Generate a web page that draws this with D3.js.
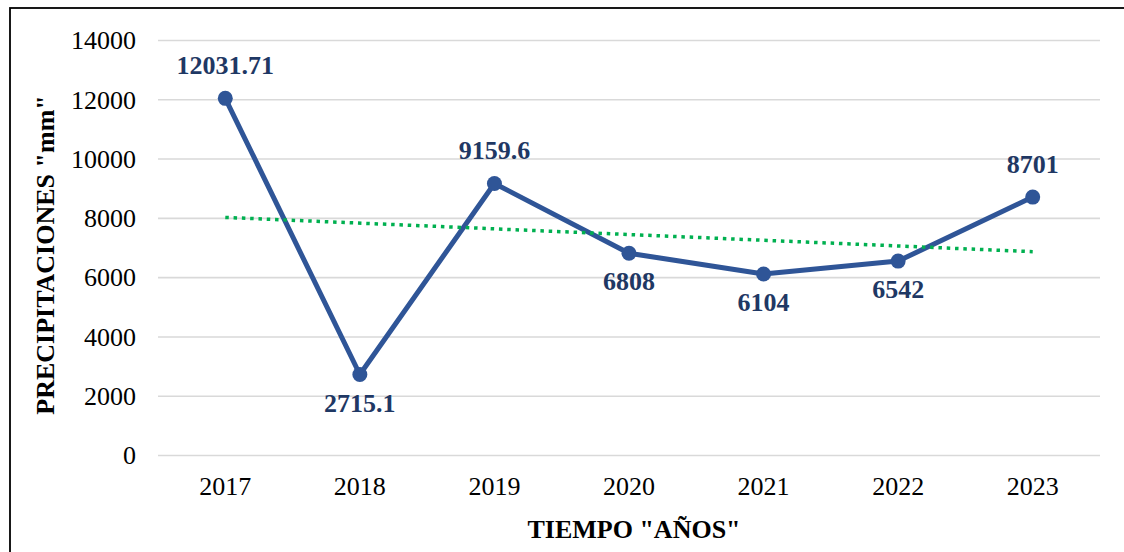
<!DOCTYPE html>
<html>
<head>
<meta charset="utf-8">
<script src="https://cdn.jsdelivr.net/npm/d3@7/dist/d3.min.js"></script>
<style>
  html, body { margin: 0; padding: 0; background: #fff; }
  svg { display: block; font-family: "Liberation Serif", "Times New Roman", serif; }
</style>
</head>
<body>
<svg id="chart" width="1124" height="552"></svg>
<script>
const years = ["2017", "2018", "2019", "2020", "2021", "2022", "2023"];
const precip = [12031.71, 2715.1, 9159.6, 6808, 6104, 6542, 8701];
const labels = ["12031.71", "2715.1", "9159.6", "6808", "6104", "6542", "8701"];
const labelPos = ["above", "below", "above", "below", "below", "below", "above"];
const yTicks = [0, 2000, 4000, 6000, 8000, 10000, 12000, 14000];
// linear trend line endpoints (2017 and 2023)
const trendYears = ["2017", "2023"];
const trendValues = [8015, 6859];

(function () {
const svg = d3.select("#chart");
const pL = 158, pR = 1100, pT = 40, pB = 455;

const x = d3.scaleBand().domain(years).range([pL, pR]);
const y = d3.scaleLinear().domain([0, 14000]).range([pB, pT]);
const cx = d => x(d) + x.bandwidth() / 2;

// outer border
svg.append("rect").attr("x", 10).attr("y", 8).attr("width", 1300).attr("height", 700)
  .attr("fill", "none").attr("stroke", "#000").attr("stroke-width", 1.8);

// gridlines + y tick labels
const yAxis = d3.axisLeft(y).tickValues(yTicks).tickSize(-(pR - pL)).tickPadding(22)
  .tickFormat(d3.format("d"));
const gy = svg.append("g").attr("transform", `translate(${pL},0)`).call(yAxis);
gy.select(".domain").remove();
gy.selectAll(".tick line").attr("stroke", "#D9D9D9").attr("stroke-width", 1.6);
gy.selectAll(".tick text").attr("font-size", 26).attr("fill", "#000")
  .attr("font-family", "Liberation Serif").attr("dy", "0.34em");

// x axis labels
const xAxis = d3.axisBottom(x).tickSize(0).tickPadding(0);
const gx = svg.append("g").attr("transform", `translate(0,${pB})`).call(xAxis);
gx.select(".domain").remove();
gx.selectAll(".tick text").attr("font-size", 26).attr("fill", "#000")
  .attr("font-family", "Liberation Serif").attr("dy", null).attr("y", 40);

// data line
const line = d3.line().x((d, i) => cx(years[i])).y(d => y(d));
svg.append("path").datum(precip).attr("d", line)
  .attr("fill", "none").attr("stroke", "#2F5597").attr("stroke-width", 5)
  .attr("stroke-linejoin", "round");

// trend line
const tline = d3.line().x((d, i) => cx(trendYears[i])).y(d => y(d));
svg.append("path").datum(trendValues).attr("d", tline)
  .attr("fill", "none").attr("stroke", "#00B050").attr("stroke-width", 3.5)
  .attr("stroke-dasharray", "3.5 4.8");

// markers
svg.selectAll("circle.pt").data(precip).enter().append("circle")
  .attr("class", "pt").attr("cx", (d, i) => cx(years[i])).attr("cy", d => y(d))
  .attr("r", 7.5).attr("fill", "#2F5597");

// data labels
svg.selectAll("text.lbl").data(precip).enter().append("text")
  .attr("class", "lbl")
  .attr("x", (d, i) => cx(years[i]))
  .attr("y", (d, i) => labelPos[i] === "above" ? y(d) - 24 : y(d) + 37)
  .attr("text-anchor", "middle").attr("font-size", 26).attr("font-weight", "bold")
  .attr("fill", "#1F3864").text((d, i) => labels[i]);

// axis titles
svg.append("text").attr("x", (pL + pR) / 2 + 5).attr("y", 538)
  .attr("text-anchor", "middle").attr("font-size", 26).attr("font-weight", "bold")
  .attr("fill", "#000").text('TIEMPO "AÑOS"');

svg.append("text").attr("transform", "translate(54,255) rotate(-90)")
  .attr("text-anchor", "middle").attr("font-size", 26).attr("font-weight", "bold")
  .attr("fill", "#000").text('PRECIPITACIONES "mm"');
})();
</script>
</body>
</html>
